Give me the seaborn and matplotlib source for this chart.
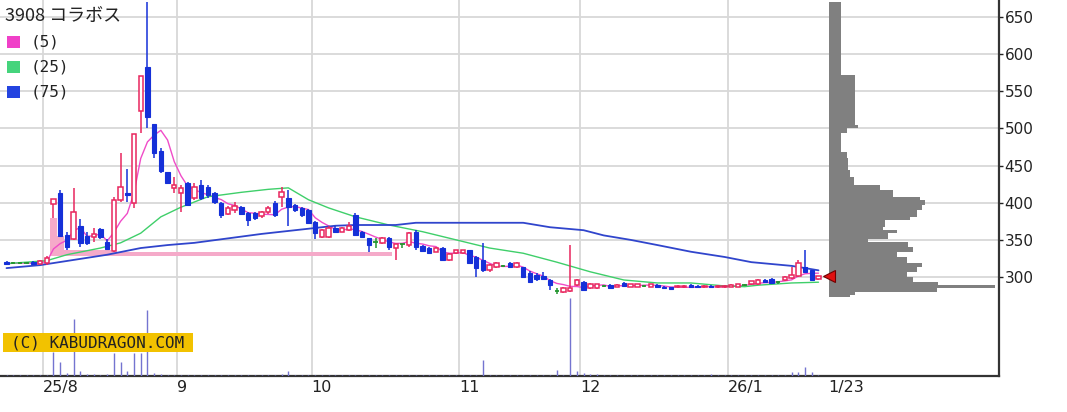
import numpy as np
import pandas as pd
import matplotlib
matplotlib.use('Agg')
import matplotlib.pyplot as plt
from matplotlib.patches import Rectangle
import seaborn as sns

# daily OHLC, 2025/7/24 .. 2026/1/23 (index 0..121)
opens = [320, 319, 319, 319, 320, 318, 319, 398, 413, 357,
         351, 369, 355, 354, 365, 347, 335, 404, 413, 400,
         523, 583, 506, 470, 441, 420, 413, 427, 406, 424,
         421, 413, 400, 385, 390, 394, 386, 386, 382, 387,
         400, 408, 406, 397, 393, 390, 374, 354, 354, 366,
         361, 363, 383, 361, 352, 347, 346, 352, 339, 344,
         343, 361, 342, 339, 334, 339, 323, 332, 332, 336,
         327, 323, 309, 313, 315, 319, 313, 313, 305, 303,
         301, 296, 281, 280, 281, 289, 293, 285, 285, 288,
         289, 287, 292, 287, 287, 288, 287, 289, 287, 286,
         286, 286, 289, 288, 286, 288, 286, 286, 287, 287,
         289, 290, 290, 296, 298, 293, 296, 299, 301, 313,
         309, 297]
highs = [321, 320, 320, 320, 321, 323, 328, 405, 417, 361,
         420, 378, 361, 366, 366, 351, 408, 467, 445, 492,
         570, 670, 506, 473, 441, 435, 424, 428, 427, 430,
         424, 415, 401, 395, 401, 396, 387, 388, 389, 395,
         402, 421, 417, 398, 394, 392, 375, 365, 368, 368,
         367, 374, 386, 362, 353, 352, 354, 354, 345, 345,
         361, 363, 343, 340, 341, 340, 332, 337, 337, 337,
         328, 346, 317, 320, 316, 320, 320, 314, 308, 305,
         307, 297, 285, 286, 343, 297, 294, 292, 291, 289,
         290, 290, 293, 291, 291, 289, 291, 290, 288, 287,
         289, 289, 290, 289, 289, 289, 289, 289, 290, 291,
         290, 295, 297, 297, 299, 294, 301, 313, 323, 336,
         310, 302]
lows = [317, 318, 318, 318, 317, 317, 316, 379, 355, 336,
        350, 340, 343, 347, 351, 336, 334, 401, 401, 393,
        494, 500, 460, 440, 425, 413, 388, 396, 403, 403,
        406, 398, 379, 383, 386, 383, 369, 377, 380, 385,
        381, 394, 369, 388, 381, 371, 351, 353, 352, 359,
        360, 362, 355, 352, 334, 339, 345, 336, 323, 339,
        340, 336, 334, 331, 333, 322, 322, 331, 331, 318,
        300, 307, 307, 312, 313, 312, 312, 299, 292, 294,
        296, 283, 277, 279, 280, 288, 281, 284, 284, 287,
        284, 286, 287, 286, 286, 287, 286, 285, 284, 283,
        285, 285, 285, 285, 285, 285, 285, 285, 286, 286,
        288, 289, 289, 292, 291, 291, 295, 297, 300, 305,
        295, 296]
closes = [318, 319, 319, 319, 318, 322, 325, 405, 355, 340,
          387, 346, 346, 358, 354, 338, 404, 421, 411, 492,
          570, 515, 467, 443, 427, 424, 420, 397, 421, 406,
          410, 401, 383, 393, 395, 385, 377, 379, 387, 393,
          383, 414, 394, 390, 383, 373, 359, 363, 366, 361,
          366, 368, 357, 354, 343, 347, 352, 340, 344, 344,
          359, 340, 335, 332, 339, 323, 331, 336, 336, 319,
          312, 309, 316, 319, 315, 313, 319, 300, 293, 297,
          297, 289, 281, 285, 285, 296, 282, 291, 290, 288,
          285, 289, 288, 290, 290, 288, 290, 286, 285, 284,
          288, 288, 286, 286, 288, 286, 288, 288, 289, 290,
          289, 294, 296, 293, 292, 293, 300, 303, 319, 307,
          296, 301]
# volume (thousand shares)
volume = [8, 8, 8, 8, 8, 8, 8, 240, 140, 30,
          570, 50, 20, 20, 10, 20, 235, 145, 50, 235,
          235, 660, 30, 20, 10, 8, 10, 8, 8, 8,
          8, 8, 8, 8, 8, 8, 8, 8, 8, 8,
          8, 20, 50, 8, 8, 8, 8, 8, 8, 8,
          8, 8, 15, 8, 15, 8, 8, 8, 8, 8,
          8, 8, 8, 8, 8, 8, 8, 8, 8, 15,
          15, 160, 8, 8, 8, 8, 8, 15, 15, 8,
          8, 15, 65, 8, 780, 55, 30, 20, 20, 8,
          8, 8, 8, 8, 8, 8, 8, 8, 8, 8,
          8, 8, 8, 8, 8, 20, 8, 8, 8, 8,
          8, 8, 8, 8, 8, 8, 8, 40, 40, 90,
          40, 8]

# 25 / 75 day moving averages
ma25_idx = [0, 6, 9, 14, 17, 20, 23, 26, 30, 35, 39, 42, 45, 48, 52, 57,
            62, 67, 72, 77, 82, 87, 92, 97, 102, 107, 110, 112, 117, 121]
ma25_val = [318, 322, 330, 339, 346, 359, 381, 394, 408, 414, 418, 420, 404, 393, 381, 370,
            361, 350, 339, 332, 320, 307, 296, 292, 292, 288, 287, 289, 292, 293]
ma75_idx = [0, 5, 15, 20, 24, 28, 33, 38, 43, 49, 52, 58, 61, 74, 77, 81,
            86, 89, 93, 97, 102, 107, 111, 117, 121]
ma75_val = [312, 316, 330, 339, 343, 346, 352, 358, 363, 369, 370, 370, 373, 373, 373, 367,
            363, 356, 350, 343, 334, 327, 320, 315, 309]

# price-volume profile (price bin edges, relative volume)
prof_edges = [273, 276, 280, 285, 289, 293, 300, 307, 313, 319, 327, 334, 340, 347, 351,
              359, 363, 367, 377, 381, 390, 397, 404, 408, 417, 424, 435, 444, 460, 468,
              494, 500, 505, 572, 670]
prof_vol = [21, 26, 108, 166, 109, 84, 78, 88, 93, 78, 68, 84, 79, 39, 59, 68, 54, 56,
            81, 88, 93, 96, 91, 64, 51, 25, 21, 19, 18, 12, 18, 29, 26, 12]

month_start = [6, 26, 46, 68, 86, 108]
month_labels = ['25/8', '9', '10', '11', '12', '26/1']
last_label = '1/23'
gap_bottom = 328

UP, DOWN, DOJI = '#e8265e', '#1530d8', '#23962f'
GRID = '#d8d8d8'

sns.set_theme(style='white')
plt.rcParams['font.family'] = ['DejaVu Sans']

W, H = 1067, 412
fig = plt.figure(figsize=(W / 100, H / 100), dpi=100)
ax = fig.add_axes([0, 36 / H, 999 / W, 376 / H])

df = pd.DataFrame({'o': opens, 'h': highs, 'l': lows, 'c': closes, 'v': volume})
df['i'] = np.arange(len(df))
up = df[df.c > df.o]
dn = df[df.c < df.o]
fl = df[df.c == df.o]

ylim = (166.8, 672.8)
xlim = (-0.97, 147.9)

# grid
for y in range(300, 651, 50):
    ax.axhline(y, color=GRID, lw=1.3, zorder=0)
for m in month_start:
    ax.axvline(m - 0.55, color=GRID, lw=1.3, zorder=0)

# unfilled gap (window)
gap_top = np.minimum.accumulate(df.l.values[7:58])
gx = np.append(np.arange(7, 58) - 0.5, 57.5)
gt = np.append(gap_top, gap_top[-1])
ax.fill_between(gx, gap_bottom, gt, step='post', color='#f5aac9', lw=0, zorder=1)

# moving averages
ma5 = df.c.rolling(5, min_periods=1).mean()
sns.lineplot(x=df.i, y=ma5, color='#f04cc8', lw=1, ax=ax, zorder=2)
sns.lineplot(x=ma25_idx, y=ma25_val, color='#3fcf6a', lw=1, ax=ax, zorder=2)
sns.lineplot(x=ma75_idx, y=ma75_val, color='#3045cc', lw=1.3, ax=ax, zorder=2)

# candles
wick_col = np.where(df.c > df.o, UP, np.where(df.c < df.o, DOWN, DOJI))
ax.vlines(df.i, df.l, df.h, colors=wick_col, lw=1.1, zorder=4)
ax.bar(up.i, (up.c - up.o).clip(lower=1.2), bottom=up.o, width=0.66,
       facecolor='white', edgecolor=UP, lw=1.1, zorder=5)
ax.bar(dn.i, (dn.o - dn.c).clip(lower=1.2), bottom=dn.c, width=0.66,
       facecolor=DOWN, edgecolor=DOWN, lw=0.8, zorder=5)
ax.hlines(fl.c, fl.i - 0.33, fl.i + 0.33, colors=DOJI, lw=1.3, zorder=5)

ax.set_xlim(*xlim)
ax.set_ylim(*ylim)
ax.set_xlabel('')
ax.set_ylabel('')
ax.yaxis.tick_right()
ax.set_yticks(range(300, 651, 50))
ax.tick_params(axis='y', direction='out', length=3, width=1, pad=1,
               labelsize=11, colors='#222222', right=True, left=False)
ax.set_xticks([m - 0.55 for m in month_start] + [len(df) + 0.4])
ax.set_xticklabels(month_labels + [last_label])
ax.tick_params(axis='x', length=0, pad=3, labelsize=11.5, colors='#222222')
for lab in ax.get_xticklabels():
    lab.set_ha('left')
for s in ['left', 'top']:
    ax.spines[s].set_visible(False)
for s in ['right', 'bottom']:
    ax.spines[s].set_color('#333333')
    ax.spines[s].set_linewidth(1.6)
ax.patch.set_alpha(0)

# volume
vax = fig.add_axes(ax.get_position(), sharex=ax)
vax.vlines(df.i, 0, df.v, colors='#7474d0', lw=1)
vax.set_ylim(0, 3760)
vax.axis('off')

# price-volume profile
pax = fig.add_axes([829 / W, 36 / H, 170 / W, 376 / H])
pax.barh(prof_edges[:-1], prof_vol, height=np.diff(prof_edges), align='edge',
         color='#808080', lw=0)
pax.set_ylim(*ylim)
pax.set_xlim(0, 170)
pax.plot(0, closes[-1], marker='<', ms=8, color='#e01010', mec='#700000',
         mew=0.8, clip_on=False, zorder=10)
pax.axis('off')


def fx(x):
    return x / W


def fy(y):
    return 1 - y / H


# title and legend
fig.text(fx(5), fy(16), '3908 コラボス', fontsize=13, va='center', ha='left',
         family=['Noto Sans CJK JP', 'DejaVu Sans'], color='#222222')
for k, (lab, col) in enumerate([('(5)', '#f040c8'), ('(25)', '#45d47c'), ('(75)', '#2444e0')]):
    yc = 42 + 25 * k
    fig.patches.append(Rectangle((fx(7), fy(yc + 6)), 13 / W, 12 / H,
                                 transform=fig.transFigure, color=col, lw=0))
    fig.text(fx(31), fy(yc), lab, fontsize=11.5, va='center', ha='left',
             family='DejaVu Sans Mono', color='#222222')

# copyright tag
fig.patches.append(Rectangle((fx(3), fy(352)), 190 / W, 19 / H,
                             transform=fig.transFigure, color='#f2c200', lw=0, zorder=5))
fig.text(fx(98), fy(342.5), '(C) KABUDRAGON.COM', fontsize=11.5, va='center',
         ha='center', family='DejaVu Sans Mono', color='#222222', zorder=6)

fig.savefig('out.png', dpi=100)
